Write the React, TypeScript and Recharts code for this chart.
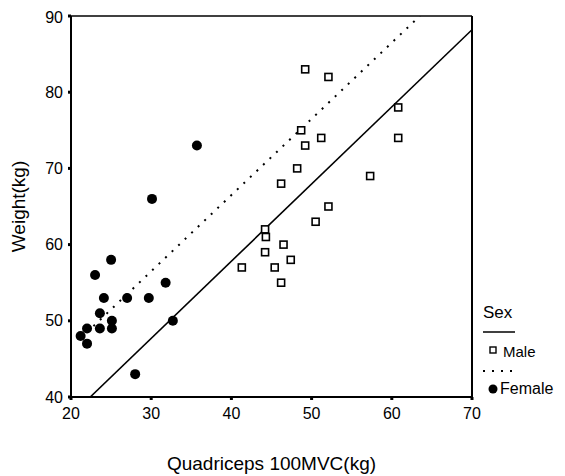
import { Legend, ReferenceLine, Scatter, ScatterChart, XAxis, YAxis } from 'recharts';

const maleQuad = [49.2, 52.1, 60.8, 48.7, 51.2, 60.8, 49.2, 48.2, 46.2, 57.3, 52.1, 50.5, 44.2, 44.3, 46.5, 44.2, 47.4, 41.3, 45.4, 46.2];
const maleWeight = [83, 82, 78, 75, 74, 74, 73, 70, 68, 69, 65, 63, 62, 61, 60, 59, 58, 57, 57, 55];
const femaleQuad = [21.2, 22, 22, 23, 23.6, 23.6, 24.1, 25, 25.1, 25.1, 27, 29.7, 30.1, 31.8, 32.7, 28, 35.7];
const femaleWeight = [48, 49, 47, 56, 51, 49, 53, 58, 50, 49, 53, 53, 66, 55, 50, 43, 73];

// fitted lines
const maleFit = [
  { x: 22.4, y: 40 },
  { x: 70, y: 88.2 },
];
const femaleFit = [
  { x: 22.8, y: 49.3 },
  { x: 63.5, y: 90 },
];

const xTicks = [20, 30, 40, 50, 60, 70];
const yTicks = [40, 50, 60, 70, 80, 90];

const male = maleQuad.map((x, i) => ({ x, y: maleWeight[i] }));
const female = femaleQuad.map((x, i) => ({ x, y: femaleWeight[i] }));

const FONT = '"Liberation Sans", Arial, sans-serif';

function OpenSquare({ cx, cy }: { cx?: number; cy?: number }) {
  if (cx == null || cy == null) return null;
  return <rect x={cx - 3.5} y={cy - 3.5} width={7} height={7} fill="#fff" stroke="#000" strokeWidth={1.6} />;
}

function Dot({ cx, cy }: { cx?: number; cy?: number }) {
  if (cx == null || cy == null) return null;
  return <circle cx={cx} cy={cy} r={5} fill="#000" />;
}

function SexLegend() {
  return (
    <svg width={95} height={105} style={{ fontFamily: FONT }}>
      <text x={5} y={20} fontSize={17} fill="#000">Sex</text>
      <line x1={5} x2={37} y1={34} y2={34} stroke="#000" strokeWidth={1.5} />
      <rect x={12} y={49} width={6} height={6} fill="#fff" stroke="#000" strokeWidth={1.4} />
      <text x={25} y={59} fontSize={15} fill="#000">Male</text>
      <line x1={5} x2={37} y1={73} y2={73} stroke="#000" strokeWidth={2} strokeDasharray="2 7" />
      <circle cx={15} cy={91} r={4.5} fill="#000" />
      <text x={22} y={96} fontSize={16} fill="#000">Female</text>
    </svg>
  );
}

function YTitle({ viewBox }: any) {
  const cy = viewBox ? viewBox.y + viewBox.height / 2 : 200;
  return (
    <text x={10} y={cy} transform={`rotate(-90 10 ${cy})`} textAnchor="middle" dominantBaseline="central" fontSize={19} fontFamily={FONT} fill="#000">
      Weight(kg)
    </text>
  );
}

export default function App() {
  return (
    <div style={{ width: 557, height: 468, background: '#fff' }}>
      <ScatterChart width={557} height={468} margin={{ top: 8, right: 93, left: 0, bottom: 0 }}>
        <XAxis
          type="number"
          dataKey="x"
          domain={[20, 70]}
          ticks={xTicks}
          allowDataOverflow
          height={79}
          tickSize={3}
          tickMargin={8}
          axisLine={{ stroke: '#000', strokeWidth: 2 }}
          tickLine={{ stroke: '#000', strokeWidth: 3 }}
          tick={{ fill: '#000', fontSize: 16, fontFamily: FONT }}
          label={{ value: 'Quadriceps 100MVC(kg)', position: 'insideBottom', offset: 6, fill: '#000', fontSize: 19, fontFamily: FONT }}
        />
        <YAxis
          type="number"
          dataKey="y"
          domain={[40, 90]}
          ticks={yTicks}
          allowDataOverflow
          width={63}
          tickSize={3}
          tickMargin={5}
          axisLine={{ stroke: '#000', strokeWidth: 2 }}
          tickLine={{ stroke: '#000', strokeWidth: 3 }}
          tick={{ fill: '#000', fontSize: 16, fontFamily: FONT }}
          label={<YTitle />}
        />
        <ReferenceLine y={90} stroke="#000" strokeWidth={1.5} />
        <ReferenceLine x={70} stroke="#000" strokeWidth={2} />
        <ReferenceLine segment={maleFit} stroke="#000" strokeWidth={1.6} ifOverflow="hidden" />
        <ReferenceLine segment={femaleFit} stroke="#000" strokeWidth={2} strokeDasharray="2 7" ifOverflow="hidden" />
        <Scatter name="Male" data={male} shape={<OpenSquare />} isAnimationActive={false} />
        <Scatter name="Female" data={female} shape={<Dot />} isAnimationActive={false} />
        <Legend
          layout="horizontal"
          align="center"
          verticalAlign="middle"
          content={<SexLegend />}
          wrapperStyle={{ position: 'absolute', left: 470, top: 290, width: 95, height: 105 }}
        />
      </ScatterChart>
    </div>
  );
}
